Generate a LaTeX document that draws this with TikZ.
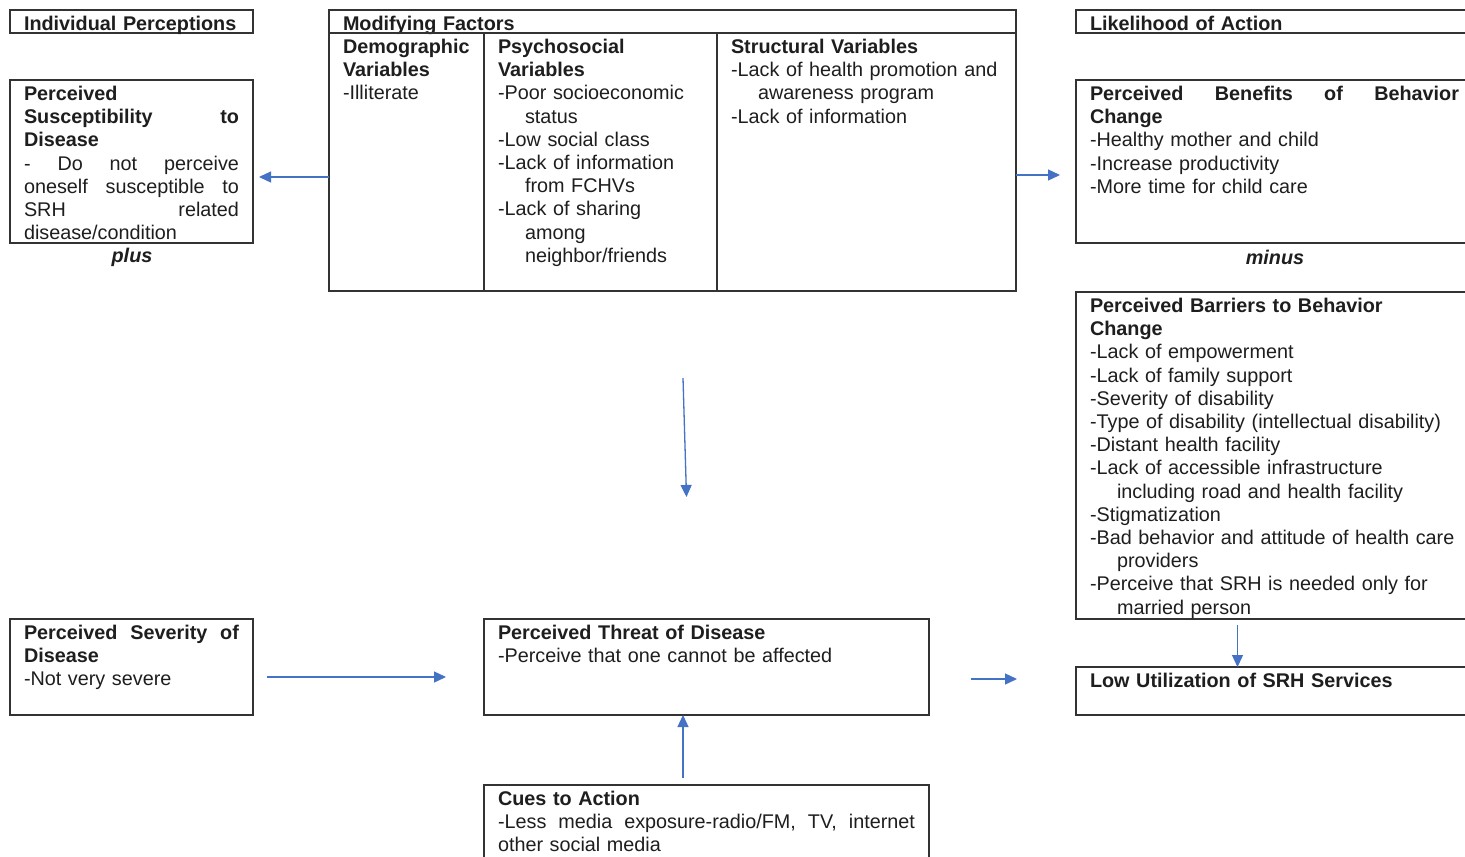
\documentclass[tikz,border=0pt]{standalone}
\usepackage{fontspec}
\setmainfont{Liberation Sans}
\usetikzlibrary{arrows.meta}
\definecolor{BoxLine}  {HTML}{333333}
\definecolor{FlowBlue} {HTML}{4472C4}
\definecolor{BodyText} {HTML}{1E1E1E}
\newcommand\ind{\hspace*{27pt}}
\tikzset{
  hbmbox/.style={draw=BoxLine,line width=1.3pt,anchor=north west,align=left,
                 inner xsep=14pt,inner ysep=0pt,outer sep=0pt,text height=20.5pt,
                 text=BodyText,font=\fontsize{19.8pt}{23.2pt}\selectfont},
  joiner/.style={text=BodyText,font=\fontsize{19.8pt}{23.2pt}\selectfont\bfseries\itshape},
  flow/.style={draw=FlowBlue,line width=1.3pt,-{Triangle[length=12pt,width=11pt]}}
}
\begin{document}
\begin{tikzpicture}[x=1pt,y=-1pt]
  \useasboundingbox (0,0) rectangle (1465,857);
  \clip (0,0) rectangle (1465,857);
  \fill[white] (0,0) rectangle (1465,857);

  % column headers
  \node[hbmbox,text width=215pt,text depth=2.5pt] (indiv) at (10,10)
    {\textbf{Individual Perceptions}};
  \node[hbmbox,text width=659pt,text depth=2.5pt] (modhead) at (329,10)
    {\textbf{Modifying Factors}};
  \node[hbmbox,text width=369pt,text depth=2.5pt] (likeli) at (1076,10)
    {\textbf{Likelihood of Action}};

  % modifying factors table
  \node[hbmbox,text width=127pt,text depth=237.5pt] (demo) at (329,33)
    {\textbf{Demographic}\\\textbf{Variables}\\-Illiterate};
  \node[hbmbox,text width=205pt,text depth=237.5pt] (psych) at (484,33)
    {\textbf{Psychosocial}\\\textbf{Variables}\\
     -Poor socioeconomic\\\ind status\\
     -Low social class\\
     -Lack of information\\\ind from FCHVs\\
     -Lack of sharing\\\ind among\\\ind neighbor/friends};
  \node[hbmbox,text width=271pt,text depth=237.5pt] (struct) at (717,33)
    {\textbf{Structural Variables}\\
     -Lack of health promotion and\\\ind awareness program\\
     -Lack of information};

  % individual perceptions
  \node[hbmbox,text width=215pt,text depth=142.5pt] (suscept) at (10,80)
    {\textbf{Perceived}\\
     \textbf{Susceptibility}\hfill\textbf{to}\\
     \textbf{Disease}\\
     -\hfill Do\hfill not\hfill perceive\\
     oneself\hfill susceptible\hfill to\\
     SRH\hfill related\\
     disease/condition};
  \node[joiner] (plus) at (132,257) {plus};
  \node[hbmbox,text width=215pt,text depth=75.5pt] (sever) at (10,619)
    {\textbf{Perceived}\hfill\textbf{Severity}\hfill\textbf{of}\\
     \textbf{Disease}\\
     -Not very severe};

  % threat and cues
  \node[hbmbox,text width=417pt,text depth=75.5pt] (threat) at (484,619)
    {\textbf{Perceived Threat of Disease}\\
     -Perceive that one cannot be affected};
  \node[hbmbox,text width=417pt,text depth=80pt] (cues) at (484,785)
    {\textbf{Cues to Action}\\
     -Less\hfill media\hfill exposure-radio/FM,\hfill TV,\hfill internet\\
     other social media};

  % likelihood of action
  \node[hbmbox,text width=369pt,text depth=142.5pt] (benefit) at (1076,80)
    {\textbf{Perceived}\hfill\textbf{Benefits}\hfill\textbf{of}\hfill\textbf{Behavior}\\
     \textbf{Change}\\
     -Healthy mother and child\\
     -Increase productivity\\
     -More time for child care};
  \node[joiner] (minus) at (1275,257) {minus};
  \node[hbmbox,text width=369pt,text depth=306.5pt] (barrier) at (1076,292)
    {\textbf{Perceived Barriers to Behavior}\\
     \textbf{Change}\\
     -Lack of empowerment\\
     -Lack of family support\\
     -Severity of disability\\
     -Type of disability (intellectual disability)\\
     -Distant health facility\\
     -Lack of accessible infrastructure\\\ind including road and health facility\\
     -Stigmatization\\
     -Bad behavior and attitude of health care\\\ind providers\\
     -Perceive that SRH is needed only for\\\ind married person};
  \node[hbmbox,text width=369pt,text depth=27.5pt] (lowuse) at (1076,667)
    {\textbf{Low Utilization of SRH Services}};

  % connectors
  \coordinate (gaptop) at (683,378);
  \coordinate (gapend) at (686.5,497);
  \draw[flow,shorten >=6pt] (demo.west |- 0,177) -- (suscept.east |- 0,177);
  \draw[flow,shorten >=16pt] (struct.east |- 0,175) -- (benefit.west |- 0,175);
  \draw[flow] (gaptop) -- (gapend);
  \draw[flow,shorten <=14pt,shorten >=38pt] (sever.east |- 0,677) -- (threat.west |- 0,677);
  \draw[flow,shorten <=42pt,shorten >=59pt] (threat.east |- 0,679) -- (lowuse.west |- 0,679);
  \draw[flow,shorten <=6pt] (1237.5,0 |- barrier.south) -- (1237.5,0 |- lowuse.north);
  \draw[flow,shorten <=7pt] (683,0 |- cues.north) -- (683,0 |- threat.south);
\end{tikzpicture}
\end{document}
